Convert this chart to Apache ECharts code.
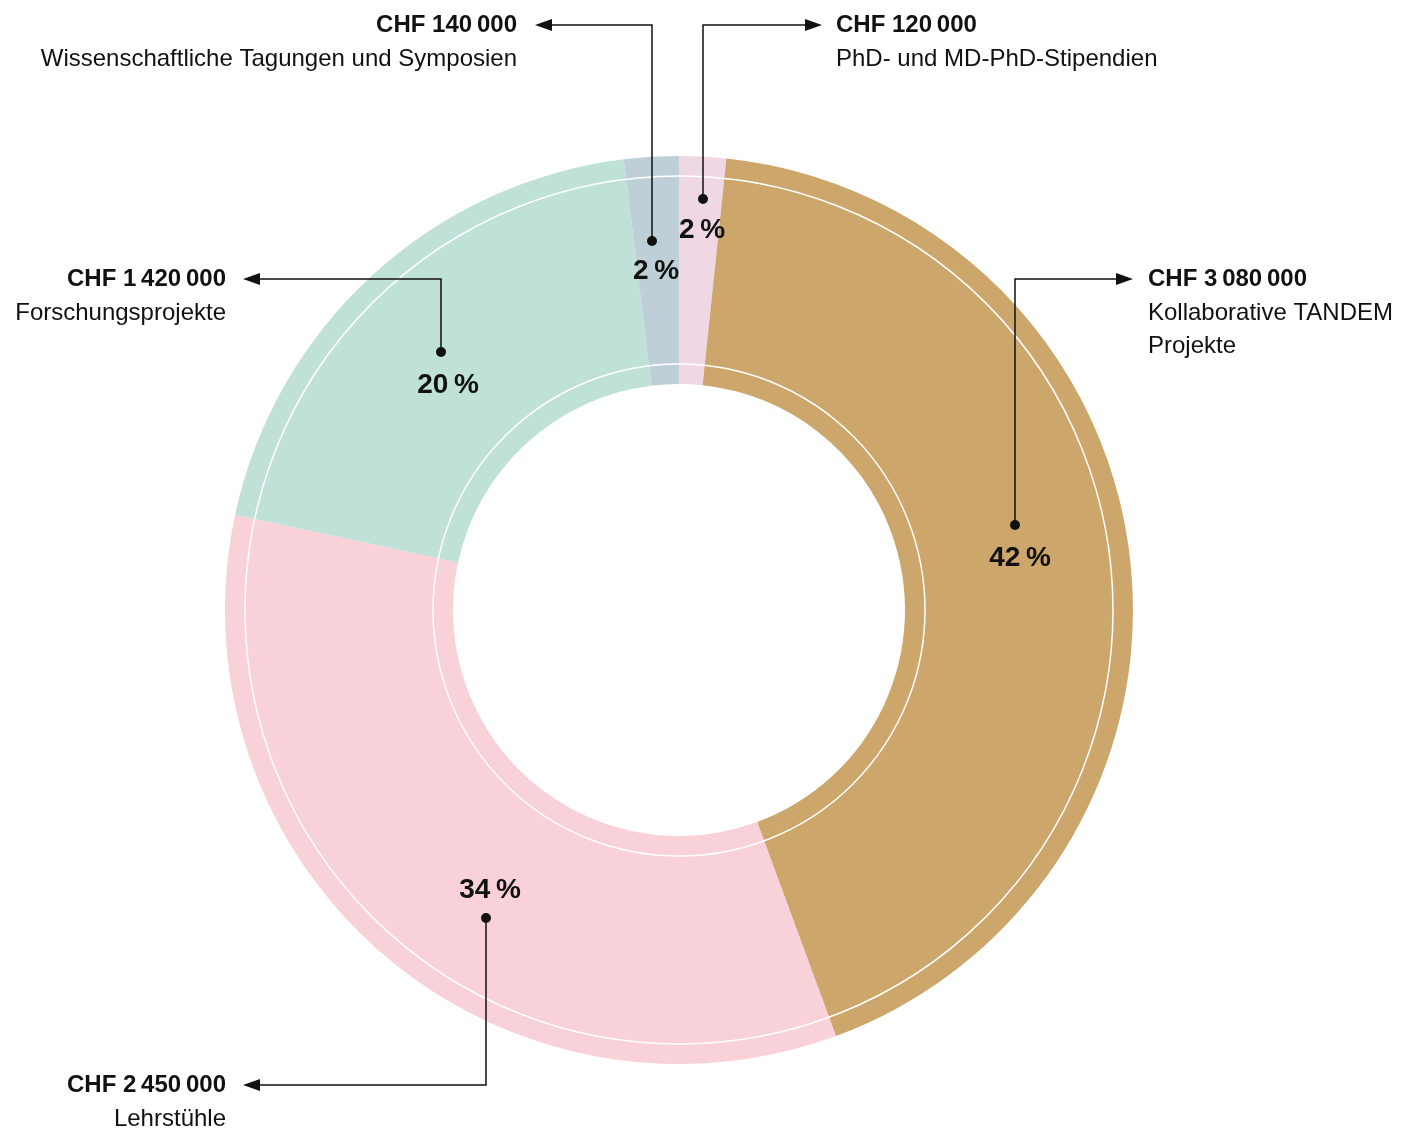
<!DOCTYPE html>
<html>
<head>
<meta charset="utf-8">
<title>Fördermittel</title>
<script src="https://cdn.jsdelivr.net/npm/echarts@6/dist/echarts.min.js"></script>
<style>
html, body { margin: 0; padding: 0; background: #fff; }
#main { width: 1411px; height: 1128px; }
</style>
</head>
<body>
<div id="main"></div>
<script>
// Daten (Reihenfolge im Uhrzeigersinn ab 12 Uhr)
var names = ['PhD- und MD-PhD-Stipendien', 'Kollaborative TANDEM\nProjekte', 'Lehrstühle', 'Forschungsprojekte', 'Wissenschaftliche Tagungen und Symposien'];
var amounts = [120000, 3080000, 2450000, 1420000, 140000];
var pctLabels = [2, 42, 34, 20, 2];
var colors = ['#efd8e3', '#cca66a', '#f9d1d8', '#bfe1d8', '#bfcfd8'];

// Layout der Beschriftungen (Pixel)
var pctPos = [[702, 230], [1020, 558], [490, 890], [448, 385], [656, 271]];
var leaders = [
	{dot: [703, 199], corner: [703, 25], tip: [822, 25], textX: 836, side: 'left'},
	{dot: [1015, 525], corner: [1015, 279], tip: [1133, 279], textX: 1148, side: 'left'},
	{dot: [486, 918], corner: [486, 1085], tip: [243, 1085], textX: 226, side: 'right'},
	{dot: [441, 352], corner: [441, 279], tip: [243, 279], textX: 226, side: 'right'},
	{dot: [652, 241], corner: [652, 25], tip: [535, 25], textX: 517, side: 'right'}
];
var cx = 679, cy = 610;
var font = '"Liberation Sans", Arial, sans-serif';

function chf(v) {
	var s = String(v);
	var out = '';
	while (s.length > 3) {
		out = '\u2009' + s.slice(-3) + out;
		s = s.slice(0, -3);
	}
	return 'CHF ' + s + out;
}

var chart = echarts.init(document.getElementById('main'), null, {renderer: 'canvas'});

var pieData = [];
for (var i = 0; i < amounts.length; i++) {
	pieData.push({name: names[i], value: amounts[i], itemStyle: {color: colors[i]}});
}

var graphics = [];
// weisse Ringlinien
graphics.push({type: 'circle', z: 10, silent: true, shape: {cx: cx, cy: cy, r: 434}, style: {fill: null, stroke: '#fff', lineWidth: 1.5}});
graphics.push({type: 'circle', z: 10, silent: true, shape: {cx: cx, cy: cy, r: 246}, style: {fill: null, stroke: '#fff', lineWidth: 1.5}});

for (var j = 0; j < leaders.length; j++) {
	var l = leaders[j];
	var dir = l.tip[0] > l.corner[0] ? 1 : -1;
	var baseX = l.tip[0] - dir * 17;
	graphics.push({type: 'polyline', z: 20, silent: true,
		shape: {points: [l.dot, l.corner, [baseX, l.tip[1]]]},
		style: {stroke: '#111', lineWidth: 1.5, fill: null}});
	graphics.push({type: 'polygon', z: 20, silent: true,
		shape: {points: [l.tip, [baseX, l.tip[1] - 6], [baseX, l.tip[1] + 6]]},
		style: {fill: '#111'}});
	graphics.push({type: 'circle', z: 20, silent: true,
		shape: {cx: l.dot[0], cy: l.dot[1], r: 5}, style: {fill: '#111'}});
	graphics.push({type: 'text', z: 20, silent: true,
		style: {text: chf(amounts[j]), x: l.textX, y: l.tip[1], align: l.side, verticalAlign: 'middle',
			font: 'bold 24px ' + font, fill: '#111'}});
	var lines = names[j].split('\n');
	for (var k = 0; k < lines.length; k++) {
		graphics.push({type: 'text', z: 20, silent: true,
			style: {text: lines[k], x: l.textX, y: l.tip[1] + 34 + k * 33, align: l.side, verticalAlign: 'middle',
				font: '24px ' + font, fill: '#111'}});
	}
}

var option = {
	backgroundColor: '#fff',
	animation: false,
	series: [{
		type: 'pie',
		center: [cx, cy],
		radius: [226, 454],
		startAngle: 90,
		clockwise: true,
		silent: true,
		data: pieData,
		label: {
			show: true,
			position: 'inside',
			formatter: function (p) { return pctLabels[p.dataIndex] + '\u2009%'; },
			color: '#111',
			fontFamily: font,
			fontWeight: 'bold',
			fontSize: 28
		},
		labelLine: {show: false},
		labelLayout: function (p) {
			var pos = pctPos[p.dataIndex];
			return {x: pos[0], y: pos[1], align: 'center', verticalAlign: 'middle'};
		}
	}],
	graphic: graphics
};

chart.setOption(option);
window.addEventListener('resize', chart.resize);
</script>
</body>
</html>
